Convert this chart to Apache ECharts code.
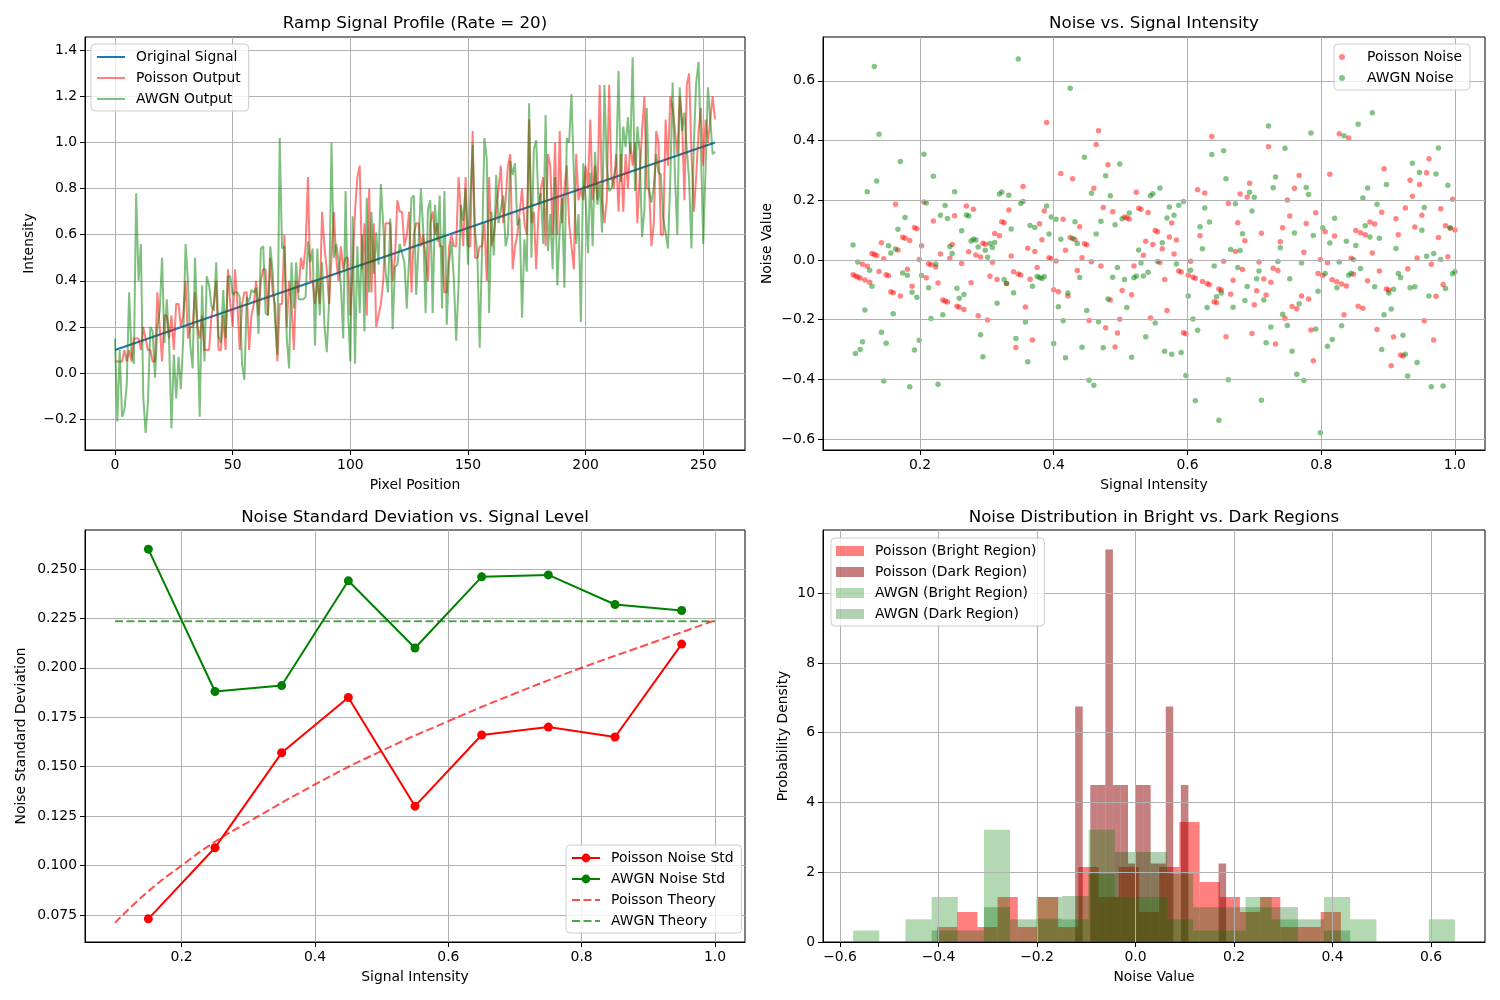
<!DOCTYPE html>
<html>
<head>
<meta charset="utf-8">
<title>Ramp signal noise comparison</title>
<script src="https://cdn.jsdelivr.net/npm/echarts@6/dist/echarts.min.js"></script>
<style>
  html, body { margin: 0; padding: 0; background: #fff; }
  #main { width: 1500px; height: 1000px; }
</style>
</head>
<body>
<div id="main"></div>
<script>
// ---- ramp signal (pixel position -> intensity), straight line between the ends
const rampPixels = [0, 255];
const rampLevels = [0.1, 1.0];

// ---- noisy outputs, one value per pixel
const poissonOut = [
  0.05,0.05,0.05,0.05,0.10,0.05,0.10,0.05,0.15,0.15,
  0.15,0.10,0.20,0.15,0.10,0.10,0.05,0.05,0.35,0.20,
  0.05,0.25,0.25,0.15,0.25,0.10,0.30,0.30,0.20,0.25,
  0.40,0.15,0.20,0.20,0.35,0.20,0.15,0.25,0.10,0.10,
  0.10,0.25,0.30,0.40,0.10,0.10,0.25,0.10,0.45,0.30,
  0.20,0.45,0.30,0.10,0.30,0.35,0.35,0.10,0.25,0.30,
  0.40,0.25,0.40,0.45,0.45,0.25,0.50,0.35,0.30,0.05,
  0.30,0.30,0.60,0.20,0.40,0.30,0.10,0.40,0.35,0.50,
  0.45,0.55,0.85,0.40,0.40,0.30,0.40,0.30,0.70,0.55,
  0.45,0.30,0.50,0.70,0.50,0.40,0.55,0.45,0.50,0.50,
  0.25,0.45,0.70,0.85,0.90,0.45,0.65,0.25,0.80,0.35,
  0.65,0.20,0.25,0.30,0.40,0.65,0.65,0.65,0.40,0.50,
  0.75,0.70,0.70,0.55,0.60,0.70,0.35,0.60,0.65,0.65,
  0.55,0.60,0.50,0.40,0.65,0.70,0.60,0.65,0.55,0.55,
  0.35,0.35,0.55,0.60,0.55,0.55,0.85,0.70,0.55,0.85,
  0.55,0.55,1.05,0.50,0.50,0.55,0.55,0.65,0.40,0.85,
  0.55,0.60,0.70,0.80,0.90,0.65,0.75,0.90,0.95,0.45,
  0.55,0.60,0.70,0.80,0.65,0.60,1.10,0.65,0.70,0.45,
  0.70,0.80,0.85,0.55,0.95,0.90,0.60,1.00,0.60,1.05,
  0.65,0.80,0.90,0.65,0.55,0.45,0.95,0.75,0.80,0.75,
  0.90,0.80,1.10,0.75,0.90,0.75,1.25,0.75,0.65,0.75,
  1.25,0.85,0.80,0.95,0.70,0.95,0.70,0.95,0.80,1.00,
  0.90,1.00,0.65,0.85,1.05,1.20,0.80,0.80,0.55,0.65,
  1.05,1.00,0.60,0.60,1.10,0.90,1.20,1.15,1.05,0.95,
  1.20,1.10,0.75,1.25,1.30,0.95,0.70,0.85,1.05,1.15,
  0.90,1.10,1.00,1.10,1.20,1.10
];
const awgnOut = [
  0.15,-0.21,0.10,-0.19,-0.16,-0.05,0.35,0.09,0.04,0.78,
  0.40,0.56,-0.10,-0.26,-0.13,0.20,0.18,-0.02,0.20,0.27,
  0.50,0.13,0.32,0.13,-0.24,0.08,-0.11,0.07,-0.07,0.15,
  0.56,0.40,0.12,0.02,0.50,0.21,-0.19,0.38,0.05,0.42,
  0.38,0.29,0.27,0.48,0.16,0.13,0.36,0.15,0.42,0.42,
  0.34,0.35,0.35,0.33,0.04,-0.03,0.33,0.31,0.36,0.35,
  0.37,0.17,0.54,0.55,0.26,0.25,0.55,0.44,0.23,0.08,
  1.02,0.54,0.55,0.15,0.02,0.48,0.28,0.48,0.32,0.32,
  0.32,0.33,0.57,0.48,0.54,0.12,0.54,0.25,0.48,0.21,
  0.09,0.31,1.00,0.50,0.56,0.49,0.38,0.15,0.79,0.28,
  0.05,0.68,0.04,0.55,0.26,0.60,0.18,0.76,0.35,0.70,
  0.43,0.61,0.47,0.82,0.64,0.44,0.35,0.67,0.19,0.46,
  0.47,0.56,0.52,0.48,0.28,0.50,0.76,0.77,0.34,0.55,
  0.80,0.62,0.26,0.71,0.75,0.26,0.73,0.57,0.77,0.28,
  0.79,0.21,0.48,0.57,0.41,0.14,0.38,0.73,0.66,0.80,
  0.47,0.76,0.99,0.62,0.52,0.11,0.54,1.02,0.93,0.26,
  0.70,0.51,0.86,0.65,0.71,0.77,0.55,0.60,0.92,0.86,
  0.91,0.64,0.67,0.24,0.58,0.44,1.17,0.50,0.97,1.01,
  0.73,0.78,0.56,1.12,0.53,0.69,0.45,0.85,0.38,0.62,
  0.76,0.37,1.02,1.00,1.21,0.87,0.56,0.69,0.22,0.91,
  0.76,0.52,0.87,0.55,0.96,0.73,0.82,0.61,1.25,0.90,
  0.79,0.80,0.85,0.90,1.31,0.83,1.07,0.98,1.11,0.95,
  1.37,0.79,1.07,0.96,0.59,0.71,1.15,0.79,0.74,0.81,
  0.95,0.87,0.86,0.67,0.61,0.54,0.84,1.26,0.85,0.60,
  1.24,1.05,1.13,0.97,0.84,0.54,0.99,1.26,1.35,0.98,
  0.56,0.89,1.24,1.10,0.95,0.96
];

// ---- noise std per intensity bin
const binCenters = [0.15, 0.25, 0.35, 0.45, 0.55, 0.65, 0.75, 0.85, 0.95];
const poissonStd = [0.073, 0.109, 0.157, 0.185, 0.130, 0.166, 0.170, 0.165, 0.212];
const awgnStd = [0.260, 0.188, 0.191, 0.244, 0.210, 0.246, 0.247, 0.232, 0.229];
const theoryX = [0.1, 0.15, 0.2, 0.25, 0.3, 0.4, 0.5, 0.6, 0.7, 0.8, 0.9, 1.0];
const poissonTheory = [0.071, 0.087, 0.100, 0.112, 0.122, 0.141, 0.158, 0.173, 0.187, 0.200, 0.212, 0.224];
const awgnTheoryX = [0.1, 1.0];
const awgnTheory = [0.2236, 0.2236];

// ---- histograms (range of the bins, density per bin)
const poissonBrightRange = [-0.403, 0.417];
const poissonBrightDensity = [0.43,0.86,0.43,1.29,0.43,1.29,0.43,2.15,1.29,2.15,0.86,2.15,3.44,1.72,1.29,0.86,1.29,0.43,0.43,0.86];
const poissonDarkRange = [-0.1225, 0.184];
const poissonDarkDensity = [6.75,0,4.5,4.5,11.25,4.5,4.5,2.25,4.5,4.5,2.25,2.25,6.75,0,4.5,0,0,0,0,2.25];
const awgnBrightRange = [-0.5734, 0.6485];
const awgnBrightDensity = [0.33,0,0.65,1.29,0,3.22,0,1.29,0.65,3.22,1.29,1.29,0.65,0.33,0.33,1.29,0.65,0,1.29,0.65,0,0,0.65];
const awgnDarkRange = [-0.5734, 0.6485];
const awgnDarkDensity = [0,0,0,0.33,0.33,1.0,0.65,0.67,1.32,1.95,2.58,2.58,1.95,1.0,1.0,1.0,1.0,0.65,0.33,0,0,0,0];

// ---- tick labels
const pixelTicks = [0, 50, 100, 150, 200, 250];
const intensityTicks = [-0.2, 0.0, 0.2, 0.4, 0.6, 0.8, 1.0, 1.2, 1.4];
const signalTicks = [0.2, 0.4, 0.6, 0.8, 1.0];
const noiseTicks = [-0.6, -0.4, -0.2, 0.0, 0.2, 0.4, 0.6];
const stdTicks = [0.075, 0.100, 0.125, 0.150, 0.175, 0.200, 0.225, 0.250];
const densityTicks = [0, 2, 4, 6, 8, 10];

const FONT = "'DejaVu Sans', sans-serif";

function fmt(v, d) {
  const s = Number(v).toFixed(d);
  return s.charAt(0) === '-' ? '\u2212' + s.slice(1) : s;
}

// signal level at a pixel (ramp)
function rampAt(i) {
  return rampLevels[0] + (rampLevels[1] - rampLevels[0]) * (i - rampPixels[0]) / (rampPixels[1] - rampPixels[0]);
}

function axis(gridIndex, min, max, ticks, digits, name, nameGap, z) {
  return {
    type: 'value', gridIndex: gridIndex, min: min, max: max, z: z || 0,
    name: name, nameLocation: 'middle', nameGap: nameGap,
    nameTextStyle: { color: '#000', fontSize: 13.9, fontFamily: FONT },
    axisLine: { show: true, onZero: false, lineStyle: { color: '#000', width: 1 } },
    axisTick: { show: true, length: 5, customValues: ticks, lineStyle: { color: '#000', width: 1 } },
    axisLabel: { customValues: ticks, color: '#000', fontSize: 13.9, fontFamily: FONT, margin: 8,
      formatter: function (v) { return fmt(v, digits); } },
    splitLine: { show: true, lineStyle: { color: '#b0b0b0', width: 1 } }
  };
}

function histSeries(name, range, dens, color) {
  const w = (range[1] - range[0]) / dens.length;
  const data = [];
  dens.forEach(function (h, k) {
    if (h > 0) data.push([range[0] + k * w, range[0] + (k + 1) * w, h]);
  });
  return {
    name: name, type: 'custom', xAxisIndex: 3, yAxisIndex: 3, z: 2, clip: true,
    itemStyle: { color: color },
    encode: { x: [0, 1], y: 2 },
    renderItem: function (params, api) {
      const a = api.coord([api.value(0), api.value(2)]);
      const b = api.coord([api.value(1), 0]);
      return {
        type: 'rect',
        shape: { x: a[0], y: a[1], width: b[0] - a[0], height: b[1] - a[1] },
        style: { fill: color }
      };
    },
    data: data
  };
}

// legend entry for a plain line: hide the marker in the icon
function lineOnly(name) {
  return { name: name, itemStyle: { opacity: 0 } };
}

const legendBase = {
  orient: 'vertical',
  backgroundColor: 'rgba(255,255,255,0.8)',
  borderColor: '#cccccc', borderWidth: 1, borderRadius: 4,
  padding: [6, 8, 5, 5],
  itemGap: 7, itemWidth: 28,
  selectedMode: false,
  textStyle: { color: '#000', fontSize: 13.9, fontFamily: FONT, lineHeight: 14, padding: [0, 0, 0, 6] }
};

const poissonLine = poissonOut.map(function (v, i) { return [i, v]; });
const awgnLine = awgnOut.map(function (v, i) { return [i, v]; });
const poissonNoise = poissonOut.map(function (v, i) { return [rampAt(i), v - rampAt(i)]; });
const awgnNoise = awgnOut.map(function (v, i) { return [rampAt(i), v - rampAt(i)]; });

const chart = echarts.init(document.getElementById('main'));

const titleStyle = { fill: '#000', fontSize: 16.7, fontFamily: FONT, align: 'center', verticalAlign: 'middle' };

const option = {
  animation: false,
  backgroundColor: '#fff',
  grid: [
    { left: 85, top: 37, width: 660, height: 413, show: true, borderColor: '#000', borderWidth: 1, backgroundColor: 'transparent' },
    { left: 823, top: 37, width: 662, height: 413, show: true, borderColor: '#000', borderWidth: 1, backgroundColor: 'transparent' },
    { left: 85, top: 530, width: 660, height: 412, show: true, borderColor: '#000', borderWidth: 1, backgroundColor: 'transparent' },
    { left: 823, top: 530, width: 662, height: 412, show: true, borderColor: '#000', borderWidth: 1, backgroundColor: 'transparent' }
  ],
  xAxis: [
    axis(0, -12.75, 267.75, pixelTicks, 0, 'Pixel Position', 28),
    axis(1, 0.055, 1.045, signalTicks, 1, 'Signal Intensity', 28, 3),
    axis(2, 0.055, 1.045, signalTicks, 1, 'Signal Intensity', 28),
    axis(3, -0.6345, 0.7096, noiseTicks, 1, 'Noise Value', 28, 3)
  ],
  yAxis: [
    axis(0, -0.334, 1.458, intensityTicks, 1, 'Intensity', 49),
    axis(1, -0.637, 0.747, noiseTicks, 1, 'Noise Value', 49, 3),
    axis(2, 0.0613, 0.2697, stdTicks, 3, 'Noise Standard Deviation', 57),
    axis(3, 0, 11.81, densityTicks, 0, 'Probability Density', 33, 3)
  ],
  legend: [
    Object.assign({}, legendBase, { left: 91, top: 44, itemHeight: 14,
      data: [lineOnly('Original Signal'), lineOnly('Poisson Output'), lineOnly('AWGN Output')] }),
    Object.assign({}, legendBase, { left: 1334, top: 44, itemHeight: 6, icon: 'circle',
      data: ['Poisson Noise', 'AWGN Noise'] }),
    Object.assign({}, legendBase, { left: 566, top: 845, itemHeight: 11,
      data: ['Poisson Noise Std', 'AWGN Noise Std', lineOnly('Poisson Theory'), lineOnly('AWGN Theory')] }),
    Object.assign({}, legendBase, { left: 831, top: 538, itemHeight: 10, icon: 'rect',
      data: ['Poisson (Bright Region)', 'Poisson (Dark Region)', 'AWGN (Bright Region)', 'AWGN (Dark Region)'] })
  ],
  graphic: [
    { type: 'text', x: 415, y: 24, style: Object.assign({ text: 'Ramp Signal Profile (Rate = 20)' }, titleStyle) },
    { type: 'text', x: 1154, y: 24, style: Object.assign({ text: 'Noise vs. Signal Intensity' }, titleStyle) },
    { type: 'text', x: 415, y: 518, style: Object.assign({ text: 'Noise Standard Deviation vs. Signal Level' }, titleStyle) },
    { type: 'text', x: 1154, y: 518, style: Object.assign({ text: 'Noise Distribution in Bright vs. Dark Regions' }, titleStyle) }
  ],
  series: [
    // ramp profile
    { name: 'Original Signal', type: 'line', xAxisIndex: 0, yAxisIndex: 0, symbol: 'none',
      lineStyle: { color: '#1f77b4', width: 2 }, itemStyle: { color: '#1f77b4' },
      data: rampPixels.map(function (p, k) { return [p, rampLevels[k]]; }) },
    { name: 'Poisson Output', type: 'line', xAxisIndex: 0, yAxisIndex: 0, symbol: 'none',
      lineStyle: { color: 'rgba(255,0,0,0.5)', width: 2 }, itemStyle: { color: 'rgba(255,0,0,0.5)' },
      data: poissonLine },
    { name: 'AWGN Output', type: 'line', xAxisIndex: 0, yAxisIndex: 0, symbol: 'none',
      lineStyle: { color: 'rgba(0,128,0,0.5)', width: 2 }, itemStyle: { color: 'rgba(0,128,0,0.5)' },
      data: awgnLine },
    // noise scatter
    { name: 'Poisson Noise', type: 'scatter', xAxisIndex: 1, yAxisIndex: 1, symbolSize: 5.5,
      itemStyle: { color: 'rgba(255,0,0,0.6)' }, data: poissonNoise },
    { name: 'AWGN Noise', type: 'scatter', xAxisIndex: 1, yAxisIndex: 1, symbolSize: 5.5,
      itemStyle: { color: 'rgba(0,128,0,0.6)' }, data: awgnNoise },
    // std vs level
    { name: 'Poisson Noise Std', type: 'line', xAxisIndex: 2, yAxisIndex: 2, symbol: 'circle', symbolSize: 9,
      lineStyle: { color: '#ff0000', width: 2 }, itemStyle: { color: '#ff0000' },
      data: binCenters.map(function (x, k) { return [x, poissonStd[k]]; }) },
    { name: 'AWGN Noise Std', type: 'line', xAxisIndex: 2, yAxisIndex: 2, symbol: 'circle', symbolSize: 9,
      lineStyle: { color: '#008000', width: 2 }, itemStyle: { color: '#008000' },
      data: binCenters.map(function (x, k) { return [x, awgnStd[k]]; }) },
    { name: 'Poisson Theory', type: 'line', xAxisIndex: 2, yAxisIndex: 2, symbol: 'none', smooth: true,
      lineStyle: { color: 'rgba(255,0,0,0.7)', width: 2, type: [8, 3.5] }, itemStyle: { color: 'rgba(255,0,0,0.7)' },
      data: theoryX.map(function (x, k) { return [x, poissonTheory[k]]; }) },
    { name: 'AWGN Theory', type: 'line', xAxisIndex: 2, yAxisIndex: 2, symbol: 'none',
      lineStyle: { color: 'rgba(0,128,0,0.7)', width: 2, type: [8, 3.5] }, itemStyle: { color: 'rgba(0,128,0,0.7)' },
      data: awgnTheoryX.map(function (x, k) { return [x, awgnTheory[k]]; }) },
    // histograms
    histSeries('Poisson (Bright Region)', poissonBrightRange, poissonBrightDensity, 'rgba(255,0,0,0.5)'),
    histSeries('Poisson (Dark Region)', poissonDarkRange, poissonDarkDensity, 'rgba(139,0,0,0.5)'),
    histSeries('AWGN (Bright Region)', awgnBrightRange, awgnBrightDensity, 'rgba(0,128,0,0.3)'),
    histSeries('AWGN (Dark Region)', awgnDarkRange, awgnDarkDensity, 'rgba(0,100,0,0.3)')
  ]
};

chart.setOption(option);
</script>
</body>
</html>
